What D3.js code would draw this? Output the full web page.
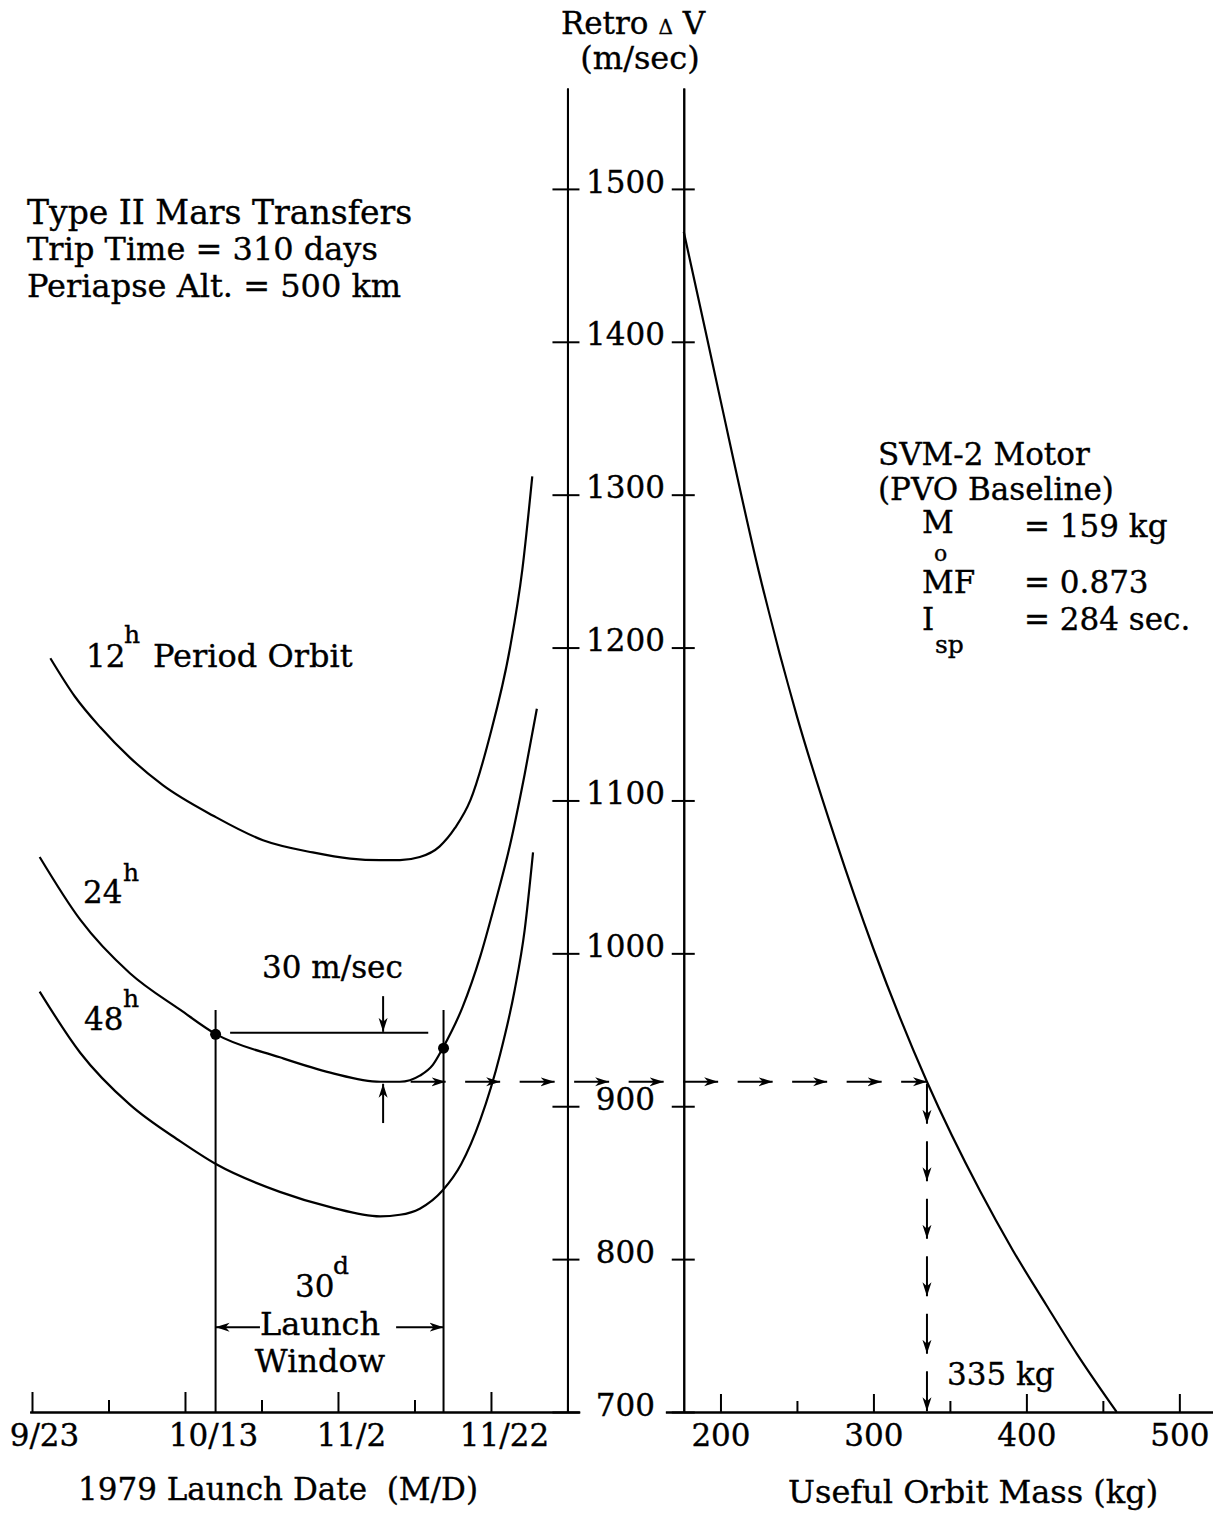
<!DOCTYPE html>
<html>
<head>
<meta charset="utf-8">
<script src="https://cdn.jsdelivr.net/npm/d3@7"></script>
<style>
  body { margin: 0; background: #fff; }
  svg { display: block; }
  text { font-family: "DejaVu Serif", serif; fill: #000; stroke: #000; stroke-width: 0.35px; }
</style>
</head>
<body>
<svg class="chart"></svg>
<script>
// tick values and labels
const dvTicks = [700, 800, 900, 1000, 1100, 1200, 1300, 1400, 1500];
const dateTicks = [0, 20, 40, 60];            // days after 9/23
const dateLabels = ["9/23", "10/13", "11/2", "11/22"];
const dateMinor = [10, 30, 50, 70];
const massTicks = [200, 300, 400, 500];
const massMinor = [250, 350, 450];

// retro dV (m/sec) against launch day (days after 9/23), one pair per capture orbit
const days12 = [2.4, 5.6, 8.9, 12.8, 17.1, 23.7, 30.2, 36.7, 41.6, 45.5, 48.1, 50.7, 53.3, 55.3, 57.3, 59.9, 62.5, 64.1, 65.4];
const dv12   = [1193, 1168, 1148, 1128, 1110, 1090, 1074, 1066, 1062, 1061, 1061, 1063, 1070, 1082, 1100, 1143, 1200, 1251, 1312];
const days24 = [1.0, 6.3, 12.8, 19.4, 24.1, 32.4, 39.0, 45.5, 48.1, 50.7, 52.4, 53.7, 56.3, 58.6, 60.5, 62.5, 64.4, 66.0];
const dv24   = [1063, 1022, 987, 963, 947, 932, 922, 916, 916, 920, 927, 938, 965, 998, 1032, 1071, 1117, 1160];
const days48 = [1.0, 6.3, 12.8, 19.4, 24.1, 32.4, 39.0, 45.5, 48.1, 50.7, 53.7, 56.1, 58.6, 61.2, 63.1, 64.4, 65.5];
const dv48   = [975, 935, 901, 877, 862, 844, 834, 828, 829, 833, 845, 862, 891, 934, 976, 1015, 1066];

// useful orbit mass (kg) against retro dV, SVM-2 motor
const massKg = [176, 190, 200, 225, 250, 275, 300, 335, 370, 391, 413, 433, 459];
const massDv = [1472, 1408, 1362, 1250, 1155, 1075, 1003, 916, 844, 806, 770, 738, 700];

// 30 day launch window on the 24h curve
const windowDays = [24.0, 53.8];
const windowDv = [947, 938];
const designDv = 916;
const payloadKg = 335;

const width = 1213, height = 1514;
const svg = d3.select(".chart").attr("width", width).attr("height", height);

const y = d3.scaleLinear().domain([700, 1566]).range([1412, 88]);
const xDate = d3.scaleLinear().domain([-0.3, 71.6]).range([29.7, 579.7]);
const xMass = d3.scaleLinear().domain([164, 522]).range([665.4, 1213]);

svg.append("defs").append("marker")
    .attr("id", "arrow")
    .attr("viewBox", "0 0 14 10")
    .attr("refX", 14).attr("refY", 5)
    .attr("markerWidth", 14).attr("markerHeight", 10)
    .attr("markerUnits", "userSpaceOnUse")
    .attr("orient", "auto")
  .append("path")
    .attr("d", "M0,0.5 L14,5 L0,9.5 L4,5 Z")
    .attr("fill", "#000");

function styleAxis(g) {
    g.attr("font-family", null).attr("font-size", null);
    g.selectAll("path, line").attr("stroke", "#000").attr("stroke-width", 2);
    g.selectAll("text").attr("font-size", 31).attr("fill", "#000");
}

// the two vertical dV axes
const cx = xDate(70);
svg.append("g").attr("transform", `translate(${cx},0)`)
    .call(d3.axisLeft(y).tickValues(dvTicks).tickSize(15).tickSizeOuter(0).tickFormat(""))
    .call(styleAxis);
svg.append("g").attr("transform", `translate(${cx},0)`)
    .call(d3.axisRight(y).tickValues(dvTicks).tickSize(12).tickSizeOuter(0).tickFormat(d3.format("d")))
    .call(styleAxis)
    .selectAll(".tick text")
    .attr("x", 58).attr("text-anchor", "middle").attr("dy", "0.1em");

const rx = xMass(176);
svg.append("g").attr("transform", `translate(${rx},0)`)
    .call(d3.axisLeft(y).tickValues(dvTicks).tickSize(12).tickSizeOuter(0).tickFormat(""))
    .call(styleAxis);
svg.append("g").attr("transform", `translate(${rx},0)`)
    .call(d3.axisRight(y).tickValues(dvTicks).tickSize(11).tickSizeOuter(0).tickFormat(""))
    .call(styleAxis);

// bottom axes
const labelShift = [12, 28, 13, 13];
svg.append("g").attr("transform", `translate(0,${y(700)})`)
    .call(d3.axisBottom(xDate).tickValues(dateTicks).tickSize(-20).tickSizeOuter(0).tickPadding(12)
        .tickFormat((d, i) => dateLabels[i]))
    .call(styleAxis)
    .selectAll(".tick text").attr("dx", (d, i) => labelShift[i]);
svg.append("g").attr("transform", `translate(0,${y(700)})`)
    .call(d3.axisBottom(xDate).tickValues(dateMinor).tickSize(-12).tickSizeOuter(0).tickFormat(""))
    .call(styleAxis);

svg.append("g").attr("transform", `translate(0,${y(700)})`)
    .call(d3.axisBottom(xMass).tickValues(massTicks).tickSize(-18).tickSizeOuter(0).tickPadding(12))
    .call(styleAxis);
svg.append("g").attr("transform", `translate(0,${y(700)})`)
    .call(d3.axisBottom(xMass).tickValues(massMinor).tickSize(-11).tickSizeOuter(0).tickFormat(""))
    .call(styleAxis);

// curves
const dateLine = d3.line().x(d => xDate(d[0])).y(d => y(d[1])).curve(d3.curveMonotoneX);
const massLine = d3.line().x(d => xMass(d[0])).y(d => y(d[1])).curve(d3.curveMonotoneX);

[[days12, dv12], [days24, dv24], [days48, dv48]].forEach(([dd, vv]) => {
    svg.append("path")
        .datum(d3.zip(dd, vv))
        .attr("d", dateLine)
        .attr("fill", "none").attr("stroke", "#000").attr("stroke-width", 2.2);
});
svg.append("path")
    .datum(d3.zip(massKg, massDv))
    .attr("d", massLine)
    .attr("fill", "none").attr("stroke", "#000").attr("stroke-width", 2.2);

// launch window
windowDays.forEach((d, i) => {
    svg.append("line")
        .attr("x1", xDate(d)).attr("x2", xDate(d))
        .attr("y1", y(963)).attr("y2", y(700))
        .attr("stroke", "#000").attr("stroke-width", 2);
    svg.append("circle")
        .attr("cx", xDate(d)).attr("cy", y(windowDv[i])).attr("r", 5.5)
        .attr("fill", "#000");
});

// 30 m/sec bracket
svg.append("line")
    .attr("x1", xDate(25.9)).attr("x2", xDate(51.8))
    .attr("y1", y(948)).attr("y2", y(948))
    .attr("stroke", "#000").attr("stroke-width", 2);
svg.append("line")
    .attr("x1", xDate(45.9)).attr("x2", xDate(45.9))
    .attr("y1", y(972)).attr("y2", y(948) - 1)
    .attr("stroke", "#000").attr("stroke-width", 2).attr("marker-end", "url(#arrow)");
svg.append("line")
    .attr("x1", xDate(45.9)).attr("x2", xDate(45.9))
    .attr("y1", y(889)).attr("y2", y(designDv) + 2)
    .attr("stroke", "#000").attr("stroke-width", 2).attr("marker-end", "url(#arrow)");

// window width arrows
const wy = y(755.5);
[[29.8, windowDays[0]], [47.6, windowDays[1]]].forEach(([a, b]) => {
    svg.append("line")
        .attr("x1", xDate(a)).attr("x2", xDate(b))
        .attr("y1", wy).attr("y2", wy)
        .attr("stroke", "#000").attr("stroke-width", 2).attr("marker-end", "url(#arrow)");
});

// dashed read-across to the motor curve, then down to the mass axis
const hy = y(designDv), hx0 = xDate(49.5), hx1 = xMass(payloadKg);
d3.range(hx0, hx1, 54.5).forEach(s => {
    svg.append("line")
        .attr("x1", s).attr("x2", Math.min(s + 35, hx1))
        .attr("y1", hy).attr("y2", hy)
        .attr("stroke", "#000").attr("stroke-width", 2).attr("marker-end", "url(#arrow)");
});
const vy1 = y(700);
d3.range(hy + 2, vy1, 57.5).forEach(s => {
    svg.append("line")
        .attr("x1", hx1).attr("x2", hx1)
        .attr("y1", s).attr("y2", Math.min(s + 40, vy1))
        .attr("stroke", "#000").attr("stroke-width", 2).attr("marker-end", "url(#arrow)");
});

// text
function label(x, yy, str, size, anchor) {
    return svg.append("text")
        .attr("x", x).attr("y", yy)
        .attr("font-size", size)
        .attr("text-anchor", anchor || "start")
        .text(str);
}

const t = svg.append("text").attr("x", 633).attr("y", 34).attr("font-size", 31).attr("text-anchor", "middle");
t.append("tspan").text("Retro ");
t.append("tspan").attr("font-size", 20).text("\u0394");
t.append("tspan").text(" V");
label(640, 69, "(m/sec)", 32, "middle");

label(27, 224, "Type II Mars Transfers", 33);
label(27, 260, "Trip Time = 310 days", 32);
label(27, 297, "Periapse Alt. = 500 km", 32);

label(86, 667, "12", 31);
label(124, 643, "h", 25);
label(153, 667, "Period Orbit", 32);
label(83, 903, "24", 31);
label(123, 881, "h", 25);
label(84, 1030, "48", 31);
label(123, 1007, "h", 25);

label(262, 978, "30 m/sec", 31);
label(295, 1297, "30", 31);
label(333, 1274, "d", 25);
label(320, 1335, "Launch", 32, "middle");
label(320, 1372, "Window", 32, "middle");

label(878, 465, "SVM-2 Motor", 31);
label(878, 500, "(PVO Baseline)", 31);
label(922, 533, "M", 31);
label(934, 561, "o", 22);
label(1024, 537, "= 159 kg", 31);
label(922, 593, "MF", 31);
label(1024, 593, "= 0.873", 31);
label(922, 630, "I", 31);
label(935, 653, "sp", 25);
label(1024, 630, "= 284 sec.", 31);

label(947, 1385, "335 kg", 31);

label(78, 1500, "1979 Launch Date\u00a0\u00a0(M/D)", 31);
label(788, 1503, "Useful Orbit Mass (kg)", 32);
</script>
</body>
</html>
